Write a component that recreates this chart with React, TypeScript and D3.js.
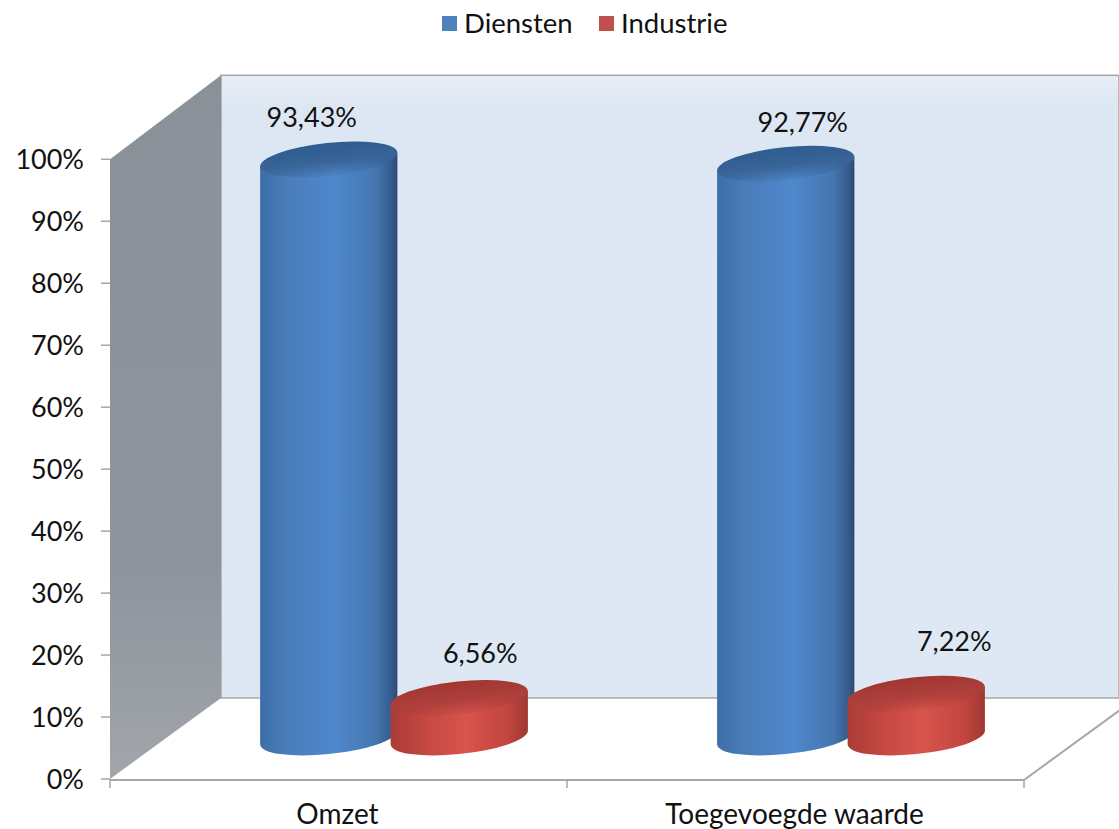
import React from "react";
import * as d3 from "d3";

// Sector shares per measure, Dutch decimal notation in the labels.
const categories = ["Omzet", "Toegevoegde waarde"];
const seriesNames = ["Diensten", "Industrie"];
const dienstenValues = [93.43, 92.77];
const industrieValues = [6.56, 7.22];
const yTicks = [0, 10, 20, 30, 40, 50, 60, 70, 80, 90, 100];

const WIDTH = 1119;
const HEIGHT = 829;
const FONT = "Lato, 'Open Sans', sans-serif";

// Oblique projection of the 3D box.
const front = { left: 110, right: 1024, bottom: 779, top: 159.3 };
const depth = { dx: 111, dy: -81 };
const barRadiusX = 69;
const barRadiusY = 16.5;
const tiltDeg = -6;

// Hand placement of the value labels relative to the top of each cylinder.
const labelNudge = [
  [{ dx: -17, dy: -33 }, { dx: 21, dy: -35 }],
  [{ dx: 17, dy: -32 }, { dx: 38, dy: -43 }],
];

const y = d3.scaleLinear().domain([0, 100]).range([front.bottom, front.top]);
const xOuter = d3.scaleBand<string>().domain(categories).range([front.left, front.right]);
const xInner = d3.scaleBand<string>().domain(seriesNames).range([-130.5, 130.5]);

const fmt = (v: number) => d3.format(".2f")(v).replace(".", ",") + "%";

function cylinderBody(cx: number, yTop: number, yBase: number) {
  const phi = (tiltDeg * Math.PI) / 180;
  const t = Math.atan2(-barRadiusY * Math.sin(phi), barRadiusX * Math.cos(phi));
  const ex = barRadiusX * Math.cos(t) * Math.cos(phi) - barRadiusY * Math.sin(t) * Math.sin(phi);
  const ey = barRadiusX * Math.cos(t) * Math.sin(phi) + barRadiusY * Math.sin(t) * Math.cos(phi);
  const p = d3.path();
  p.moveTo(cx - ex, yTop - ey);
  p.lineTo(cx - ex, yBase - ey);
  const arc = `A${barRadiusX} ${barRadiusY} ${tiltDeg} 0 0 ${cx + ex} ${yBase + ey}`;
  return `${p.toString()}${arc}L${cx + ex} ${yTop + ey}Z`;
}

function Cylinder({ cx, value, id }: { cx: number; value: number; id: string }) {
  const yTop = y(value) + depth.dy / 2;
  const yBase = y(0) + depth.dy / 2 - 1;
  return (
    <g filter="url(#soft)">
      <path d={cylinderBody(cx, yTop, yBase)} fill={`url(#${id}Side)`} />
      <ellipse
        cx={cx}
        cy={yTop}
        rx={barRadiusX}
        ry={barRadiusY}
        fill={`url(#${id}Top)`}
        transform={`rotate(${tiltDeg} ${cx} ${yTop})`}
      />
    </g>
  );
}

export default function App() {
  const backLeft = front.left + depth.dx;
  const backTop = front.top + depth.dy - 3;
  const backBottom = front.bottom + depth.dy;
  const series = [dienstenValues, industrieValues];

  return (
    <svg
      width={WIDTH}
      height={HEIGHT}
      style={{ position: "absolute", left: 0, top: 0, display: "block", background: "#fff" }}
      fontFamily={FONT}
    >
      <defs>
        <filter id="soft" x="-5%" y="-5%" width="110%" height="110%">
          <feGaussianBlur stdDeviation="0.6" />
        </filter>
        <linearGradient id="wall" x1="0" y1="0" x2="0" y2="1">
          <stop offset="0" stopColor="#e8eef6" />
          <stop offset="0.05" stopColor="#dde7f3" />
          <stop offset="1" stopColor="#dee8f4" />
        </linearGradient>
        <linearGradient id="side" x1="0" y1="0" x2="0" y2="1">
          <stop offset="0" stopColor="#8a9199" />
          <stop offset="0.7" stopColor="#8d949c" />
          <stop offset="1" stopColor="#a2a6ab" />
        </linearGradient>
        <linearGradient id="dienstenSide" x1="0" y1="0" x2="1" y2="0">
          <stop offset="0" stopColor="#3d6ea8" />
          <stop offset="0.2" stopColor="#4a7db9" />
          <stop offset="0.55" stopColor="#5088cd" />
          <stop offset="0.85" stopColor="#4475ae" />
          <stop offset="0.96" stopColor="#335a8c" />
          <stop offset="1" stopColor="#2b4a72" />
        </linearGradient>
        <linearGradient id="dienstenTop" x1="0" y1="0" x2="0" y2="1">
          <stop offset="0" stopColor="#2f5c90" />
          <stop offset="0.55" stopColor="#386497" />
          <stop offset="1" stopColor="#386497" stopOpacity="0.15" />
        </linearGradient>
        <linearGradient id="industrieSide" x1="0" y1="0" x2="1" y2="0">
          <stop offset="0" stopColor="#ab3c37" />
          <stop offset="0.3" stopColor="#c84a44" />
          <stop offset="0.55" stopColor="#d8544d" />
          <stop offset="0.85" stopColor="#c2463f" />
          <stop offset="1" stopColor="#a03732" />
        </linearGradient>
        <linearGradient id="industrieTop" x1="0" y1="0" x2="0" y2="1">
          <stop offset="0" stopColor="#a23632" />
          <stop offset="0.55" stopColor="#ad3f3b" />
          <stop offset="1" stopColor="#ad3f3b" stopOpacity="0.15" />
        </linearGradient>
      </defs>

      {/* Legend */}
      <rect x={442} y={16} width={15} height={15} fill="#4f81bd" />
      <text x={464} y={33} fontSize={27.5} fill="#111">{seriesNames[0]}</text>
      <rect x={599} y={16} width={15} height={15} fill="#c0504d" />
      <text x={621} y={33} fontSize={27.5} fill="#111">{seriesNames[1]}</text>

      {/* Back wall and side wall */}
      <rect
        x={backLeft}
        y={backTop}
        width={WIDTH - backLeft}
        height={backBottom - backTop}
        fill="url(#wall)"
        stroke="#a6a6a6"
        strokeWidth={1.5}
      />
      <polygon
        points={[
          [front.left, front.top],
          [backLeft, backTop],
          [backLeft, backBottom],
          [front.left, front.bottom],
        ].join(" ")}
        fill="url(#side)"
      />

      {/* Floor edges */}
      <line x1={front.left} y1={front.bottom + 1} x2={front.right} y2={front.bottom + 1} stroke="#a6a6a6" strokeWidth={2} />
      <line
        x1={front.right}
        y1={front.bottom + 1}
        x2={front.right + depth.dx}
        y2={front.bottom + 1 + depth.dy}
        stroke="#a6a6a6"
        strokeWidth={2}
      />

      {/* Value axis */}
      {yTicks.map((t) => (
        <g key={t}>
          <line x1={front.left - 9} x2={front.left} y1={y(t)} y2={y(t)} stroke="#a6a6a6" strokeWidth={1.5} />
          <text x={84} y={y(t) + 10} textAnchor="end" fontSize={27} fill="#111">
            {t}%
          </text>
        </g>
      ))}

      {/* Category axis */}
      {[front.left, ...categories.map((c) => xOuter(c)! + xOuter.bandwidth())].map((x) => (
        <line key={x} x1={x} x2={x} y1={front.bottom} y2={front.bottom + 9} stroke="#a6a6a6" strokeWidth={1.5} />
      ))}
      {categories.map((c) => (
        <text key={c} x={xOuter(c)! + xOuter.bandwidth() / 2 - 1} y={824} textAnchor="middle" fontSize={28} fill="#111">
          {c}
        </text>
      ))}

      {/* Cylinders, then their value labels */}
      {categories.map((c, i) => {
        const centre = xOuter(c)! + xOuter.bandwidth() / 2 + depth.dx / 2;
        return (
          <g key={c}>
            {seriesNames.map((s, k) => {
              const cx = centre + xInner(s)! + xInner.bandwidth() / 2;
              return <Cylinder key={s} cx={cx} value={series[k][i]} id={s.toLowerCase()} />;
            })}
            {seriesNames.map((s, k) => {
              const cx = centre + xInner(s)! + xInner.bandwidth() / 2;
              const v = series[k][i];
              const n = labelNudge[i][k];
              return (
                <text
                  key={s}
                  x={cx + n.dx}
                  y={y(v) + depth.dy / 2 + n.dy}
                  textAnchor="middle"
                  fontSize={27}
                  fill="#111"
                >
                  {fmt(v)}
                </text>
              );
            })}
          </g>
        );
      })}
    </svg>
  );
}
